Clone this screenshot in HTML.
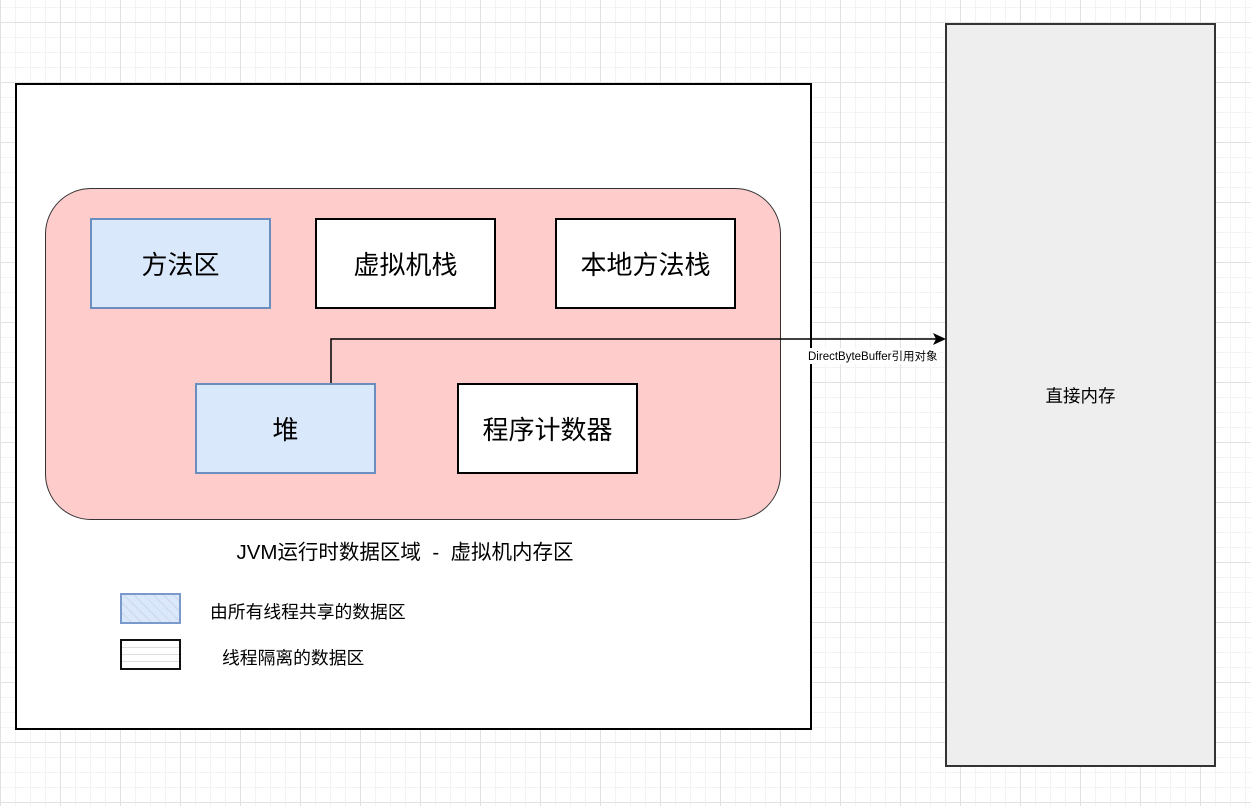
<!DOCTYPE html>
<html><head><meta charset="utf-8"><style>
body{margin:0;width:1251px;height:806px;overflow:hidden;font-family:"Liberation Sans","Noto Sans CJK SC",sans-serif;
background-color:#fff;
background-image:
linear-gradient(to right,#e2e2e2 1px,transparent 1px),
linear-gradient(to bottom,#e2e2e2 1px,transparent 1px),
linear-gradient(to right,#f3f3f3 1px,transparent 1px),
linear-gradient(to bottom,#f3f3f3 1px,transparent 1px);
background-size:60px 60px,60px 60px,15px 15px,15px 15px;
background-position:0 0,0 22px,0 0,0 7px;}
.a{position:absolute;box-sizing:border-box;display:flex;align-items:center;justify-content:center;}
.w{background:#fff;border:2px solid #000;font-size:26px;}
.b{background:#dae8fc;border:2px solid #6c8ebf;font-size:26px;}
</style></head><body>
<div class="a" style="left:15px;top:83px;width:797px;height:647px;background:#fff;border:2px solid #000"></div>
<div class="a" style="left:45px;top:188px;width:736px;height:332px;background:#ffcccc;border:1.5px solid #333;border-radius:46px"></div>
<div class="a b" style="left:90px;top:218px;width:181px;height:91px">方法区</div>
<div class="a w" style="left:315px;top:218px;width:181px;height:91px">虚拟机栈</div>
<div class="a w" style="left:555px;top:218px;width:181px;height:91px">本地方法栈</div>
<div class="a b" style="left:195px;top:383px;width:181px;height:91px">堆</div>
<div class="a w" style="left:457px;top:383px;width:181px;height:91px">程序计数器</div>
<div class="a" style="left:185px;top:535px;width:440px;height:30px;font-size:20.5px;white-space:pre">JVM运行时数据区域  -  虚拟机内存区</div>
<div class="a" style="left:120px;top:593px;width:61px;height:31px;border:2px solid #7a9acc;background:repeating-linear-gradient(45deg,#dae8fc 0 6px,#cdd6e6 6px 7px)"></div>
<div class="a" style="left:120px;top:639px;width:61px;height:31px;border:2px solid #111;background:repeating-linear-gradient(180deg,#fff 0 6px,#ddd 6px 7px)"></div>
<div style="position:absolute;left:210px;top:598px;font-size:17.8px">由所有线程共享的数据区</div>
<div style="position:absolute;left:222px;top:644px;font-size:17.8px">线程隔离的数据区</div>
<div class="a" style="left:945px;top:23px;width:271px;height:744px;background:#eeeeee;border:2px solid #333;font-size:17.5px">直接内存</div>
<svg style="position:absolute;left:0;top:0" width="1251" height="806">
<polyline points="331,383 331,339 936,339" fill="none" stroke="#000" stroke-width="1.5"/>
<polygon points="946,339 933,333 936,339 933,345" fill="#000"/>
</svg>
<div style="position:absolute;left:807px;top:348px;background:#fff;font-size:11.5px;padding:0 1px">DirectByteBuffer引用对象</div>
</body></html>
